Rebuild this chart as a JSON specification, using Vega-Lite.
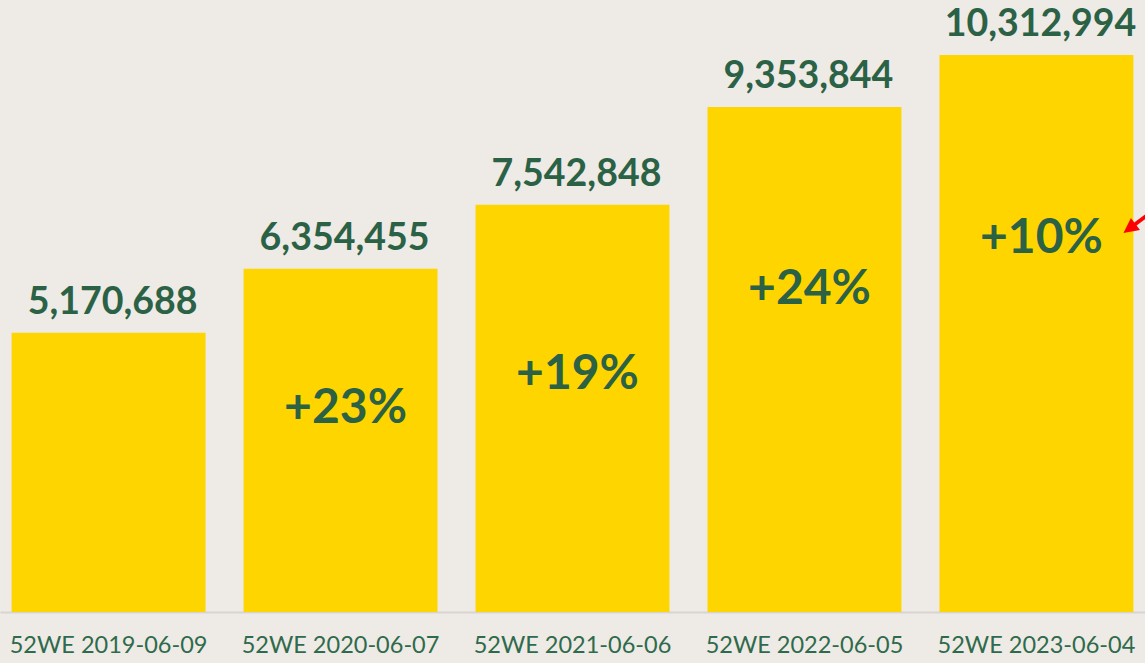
{
  "$schema": "https://vega.github.io/schema/vega-lite/v6.json",
  "width": 1145,
  "height": 612,
  "autosize": {"type": "none"},
  "padding": {"left": 0, "right": 0, "top": 0, "bottom": 51},
  "background": "#EEEAE6",
  "config": {"view": {"stroke": null}, "font": "Lato"},
  "data": {
    "values": [
      {"period": "52WE 2019-06-09", "sales": 5170688, "pct": "", "pctPos": 0},
      {"period": "52WE 2020-06-07", "sales": 6354455, "pct": "+23%", "pctPos": 3500000},
      {"period": "52WE 2021-06-06", "sales": 7542848, "pct": "+19%", "pctPos": 4130000},
      {"period": "52WE 2022-06-05", "sales": 9353844, "pct": "+24%", "pctPos": 5700000},
      {"period": "52WE 2023-06-04", "sales": 10312994, "pct": "+10%", "pctPos": 6650000}
    ]
  },
  "encoding": {
    "x": {
      "field": "period", "type": "nominal", "sort": null,
      "scale": {"paddingInner": 0.164, "paddingOuter": 0.05},
      "axis": {
        "title": null, "labelAngle": 0, "ticks": false, "labelLimit": 0,
        "domainColor": "#D8D4D1", "domainWidth": 2,
        "labelFont": "Lato", "labelFontSize": 23.5, "labelColor": "#2E6A4B",
        "labelBaseline": "alphabetic", "labelPadding": 40
      }
    }
  },
  "layer": [
    {
      "mark": {"type": "bar", "color": "#FFD500"},
      "encoding": {
        "y": {"field": "sales", "type": "quantitative", "scale": {"domain": [0, 11333000], "nice": false}, "axis": null}
      }
    },
    {
      "mark": {"type": "text", "font": "Lato", "fontWeight": "bold", "fontSize": 37.5, "color": "#2B6145", "baseline": "alphabetic", "dy": -19, "dx": 4},
      "encoding": {
        "y": {"field": "sales", "type": "quantitative"},
        "text": {"field": "sales", "type": "quantitative", "format": ","}
      }
    },
    {
      "transform": [{"filter": "datum.pct != ''"}],
      "mark": {"type": "text", "font": "Lato", "fontWeight": "bold", "fontSize": 48, "color": "#2B6145", "baseline": "alphabetic", "dx": 5},
      "encoding": {
        "y": {"field": "pctPos", "type": "quantitative"},
        "text": {"field": "pct"}
      }
    },
    {
      "transform": [{"filter": "datum.period == '52WE 2023-06-04'"}],
      "mark": {"type": "point", "shape": "M -0.8 0.6 L 0.3 0.4 L 0.078 0.104 L 2.478 -1.696 L 2.322 -1.904 L -0.078 -0.104 L -0.3 -0.4 Z", "filled": true, "color": "#FF0000", "opacity": 1, "size": 900, "xOffset": 99},
      "encoding": {
        "y": {"datum": 7185000, "type": "quantitative"}
      }
    }
  ]
}
